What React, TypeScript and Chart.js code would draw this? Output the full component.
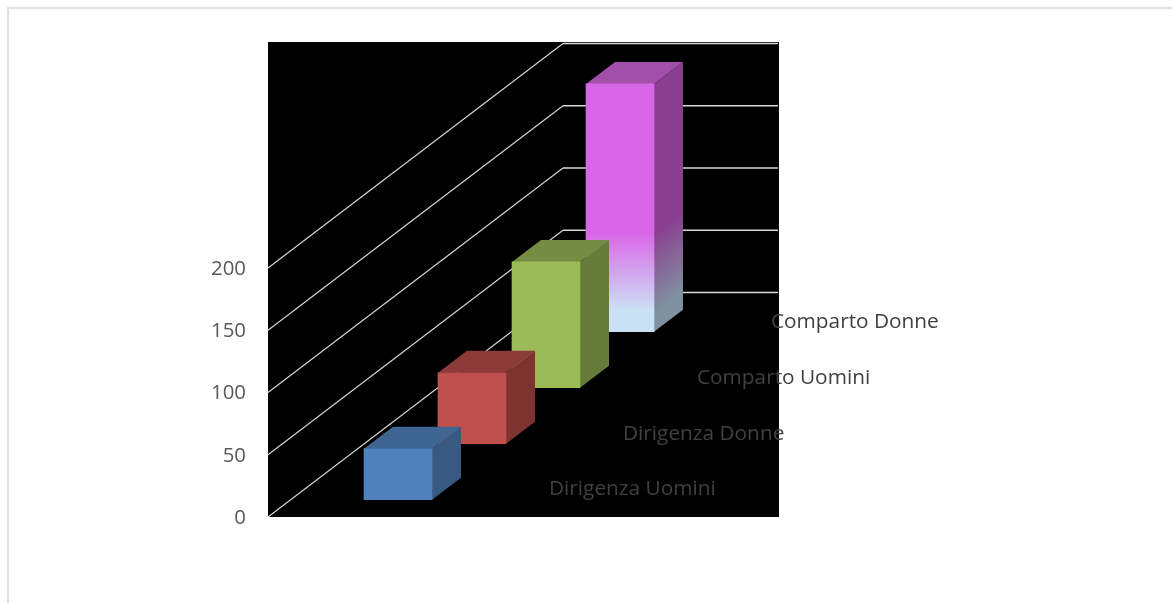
import React, { useEffect, useRef } from "react";
import { Chart, registerables } from "chart.js";

Chart.register(...registerables);

// Categories run from the front of the 3D box to the back.
const categories = ["Dirigenza Uomini", "Dirigenza Donne", "Comparto Uomini", "Comparto Donne"];
const depthSlots = [0, 1, 2, 3];
const values = [41, 57, 101, 199];
const yTicks = [0, 50, 100, 150, 200];

const frontColors = ["#4F81BD", "#C0504D", "#9BBB59", "#D966E6"];
const sideColors = ["#385A82", "#7E3331", "#677C3B", "#8A3F90"];
const topColors = ["#3F6592", "#8D3B39", "#748D43", "#A24FA9"];

const FADE_FRONT = "#CAE1F4";
const FADE_SIDE = "#80919F";
const TICK_COLOR = "#595959";
const LABEL_COLOR = "#404040";
const GRID_COLOR = "#D9D9D9";
const FONT = "'Open Sans', sans-serif";

// Projection constants of the fake 3D box, in pixels.
const BOX_DX = 295;
const BOX_DY = 224.5;
const BAR_DX = 29;
const BAR_DY = 22;
const FLOOR_LIFT = 17.3;
const SLOT_LIFT = 56;
const LABEL_DX = 151;
const LABEL_DY = 10.5;
const LABEL_DY_STEP = 0.4;

const box3d = {
  id: "box3d",
  beforeDraw(chart: any) {
    const { ctx, chartArea: a } = chart;
    ctx.save();
    ctx.fillStyle = "#000000";
    ctx.fillRect(a.left, a.top, a.right - a.left, a.bottom - a.top);
    ctx.restore();
  },
  afterDatasetsUpdate(chart: any) {
    const meta = chart.getDatasetMeta(0);
    meta.data.forEach((el: any, i: number) => {
      const lift = FLOOR_LIFT + SLOT_LIFT * depthSlots[i];
      el.y -= lift;
      el.base -= lift;
    });
    // The back bar fades out toward its foot.
    const pink = meta.data[3];
    if (pink) {
      const g = chart.ctx.createLinearGradient(0, pink.y, 0, pink.base);
      g.addColorStop(0, frontColors[3]);
      g.addColorStop(0.6, frontColors[3]);
      g.addColorStop(0.915, FADE_FRONT);
      g.addColorStop(1, FADE_FRONT);
      pink.options = { ...pink.options, backgroundColor: g };
    }
  },
  beforeDatasetsDraw(chart: any) {
    const { ctx, chartArea: a, scales } = chart;
    ctx.save();
    ctx.strokeStyle = GRID_COLOR;
    yTicks.forEach((t) => {
      const y = scales.y.getPixelForValue(t);
      ctx.lineWidth = 1.1;
      ctx.beginPath();
      ctx.moveTo(a.left, y);
      ctx.lineTo(a.left + BOX_DX, y - BOX_DY);
      ctx.stroke();
      ctx.lineWidth = 1.6;
      ctx.beginPath();
      ctx.moveTo(a.left + BOX_DX, y - BOX_DY);
      ctx.lineTo(a.right - 1, y - BOX_DY);
      ctx.stroke();
    });
    ctx.restore();
  },
  beforeDatasetDraw(chart: any) {
    const { ctx } = chart;
    const meta = chart.getDatasetMeta(0);
    for (let i = meta.data.length - 1; i >= 0; i--) {
      const el = meta.data[i];
      const left = el.x - el.width / 2;
      const right = el.x + el.width / 2;
      // top face
      ctx.save();
      ctx.fillStyle = topColors[i];
      ctx.beginPath();
      ctx.moveTo(left, el.y);
      ctx.lineTo(left + BAR_DX, el.y - BAR_DY);
      ctx.lineTo(right + BAR_DX, el.y - BAR_DY);
      ctx.lineTo(right, el.y);
      ctx.closePath();
      ctx.fill();
      ctx.restore();
      // side face, drawn in sheared space so that the fade follows the slope
      ctx.save();
      ctx.transform(1, -BAR_DY / BAR_DX, 0, 1, right, 0);
      if (i === 3) {
        const g = ctx.createLinearGradient(0, el.y, 0, el.base);
        g.addColorStop(0, sideColors[3]);
        g.addColorStop(0.6, sideColors[3]);
        g.addColorStop(0.93, FADE_SIDE);
        g.addColorStop(1, FADE_SIDE);
        ctx.fillStyle = g;
      } else {
        ctx.fillStyle = sideColors[i];
      }
      ctx.fillRect(0, el.y, BAR_DX, el.base - el.y);
      ctx.restore();
      el.draw(ctx);
    }
    return false;
  },
  afterDatasetsDraw(chart: any) {
    const { ctx } = chart;
    const meta = chart.getDatasetMeta(0);
    ctx.save();
    ctx.font = `20.8px ${FONT}`;
    ctx.fillStyle = LABEL_COLOR;
    ctx.textAlign = "left";
    ctx.textBaseline = "middle";
    meta.data.forEach((el: any, i: number) => {
      ctx.fillText(categories[i], el.x + LABEL_DX, el.base - LABEL_DY + LABEL_DY_STEP * i);
    });
    ctx.restore();
  },
};

export default function App() {
  const ref = useRef<HTMLCanvasElement>(null);
  useEffect(() => {
    const chart = new Chart(ref.current!, {
      type: "bar",
      data: {
        datasets: [
          {
            label: "Serie",
            data: depthSlots.map((s, i) => ({ x: s, y: values[i] })),
            backgroundColor: frontColors,
            borderWidth: 0,
            barThickness: 68,
          },
        ],
      },
      options: {
        animation: false,
        responsive: false,
        devicePixelRatio: 1,
        layout: { padding: { top: 42, right: 393, bottom: 86, left: 0 } },
        plugins: { legend: { display: false }, tooltip: { enabled: false } },
        scales: {
          x: {
            type: "linear",
            offset: false,
            min: -1.757,
            max: 5.149,
            display: false,
            grid: { display: false },
          },
          y: {
            min: 0,
            max: 381.5,
            border: { display: false },
            grid: { display: false, drawTicks: false },
            afterBuildTicks: (s: any) => {
              s.ticks = yTicks.map((v) => ({ value: v }));
            },
            afterFit: (s: any) => {
              s.width = 268;
            },
            ticks: {
              color: TICK_COLOR,
              padding: 22,
              labelOffset: 1,
              font: { family: FONT, size: 20.4 },
            },
          },
        },
      },
      plugins: [box3d],
    } as any);
    return () => chart.destroy();
  }, []);

  return (
    <div style={{ position: "fixed", left: 0, top: 0, width: 1172, height: 603, overflow: "hidden", background: "#fff" }}>
      <div
        style={{
          position: "absolute",
          left: 7,
          top: 7,
          width: 1300,
          height: 800,
          borderLeft: "2px solid #E1E1E1",
          borderTop: "2px solid #E1E1E1",
        }}
      />
      <canvas ref={ref} width={1172} height={603} style={{ position: "absolute", left: 0, top: 0, display: "block" }} />
    </div>
  );
}
